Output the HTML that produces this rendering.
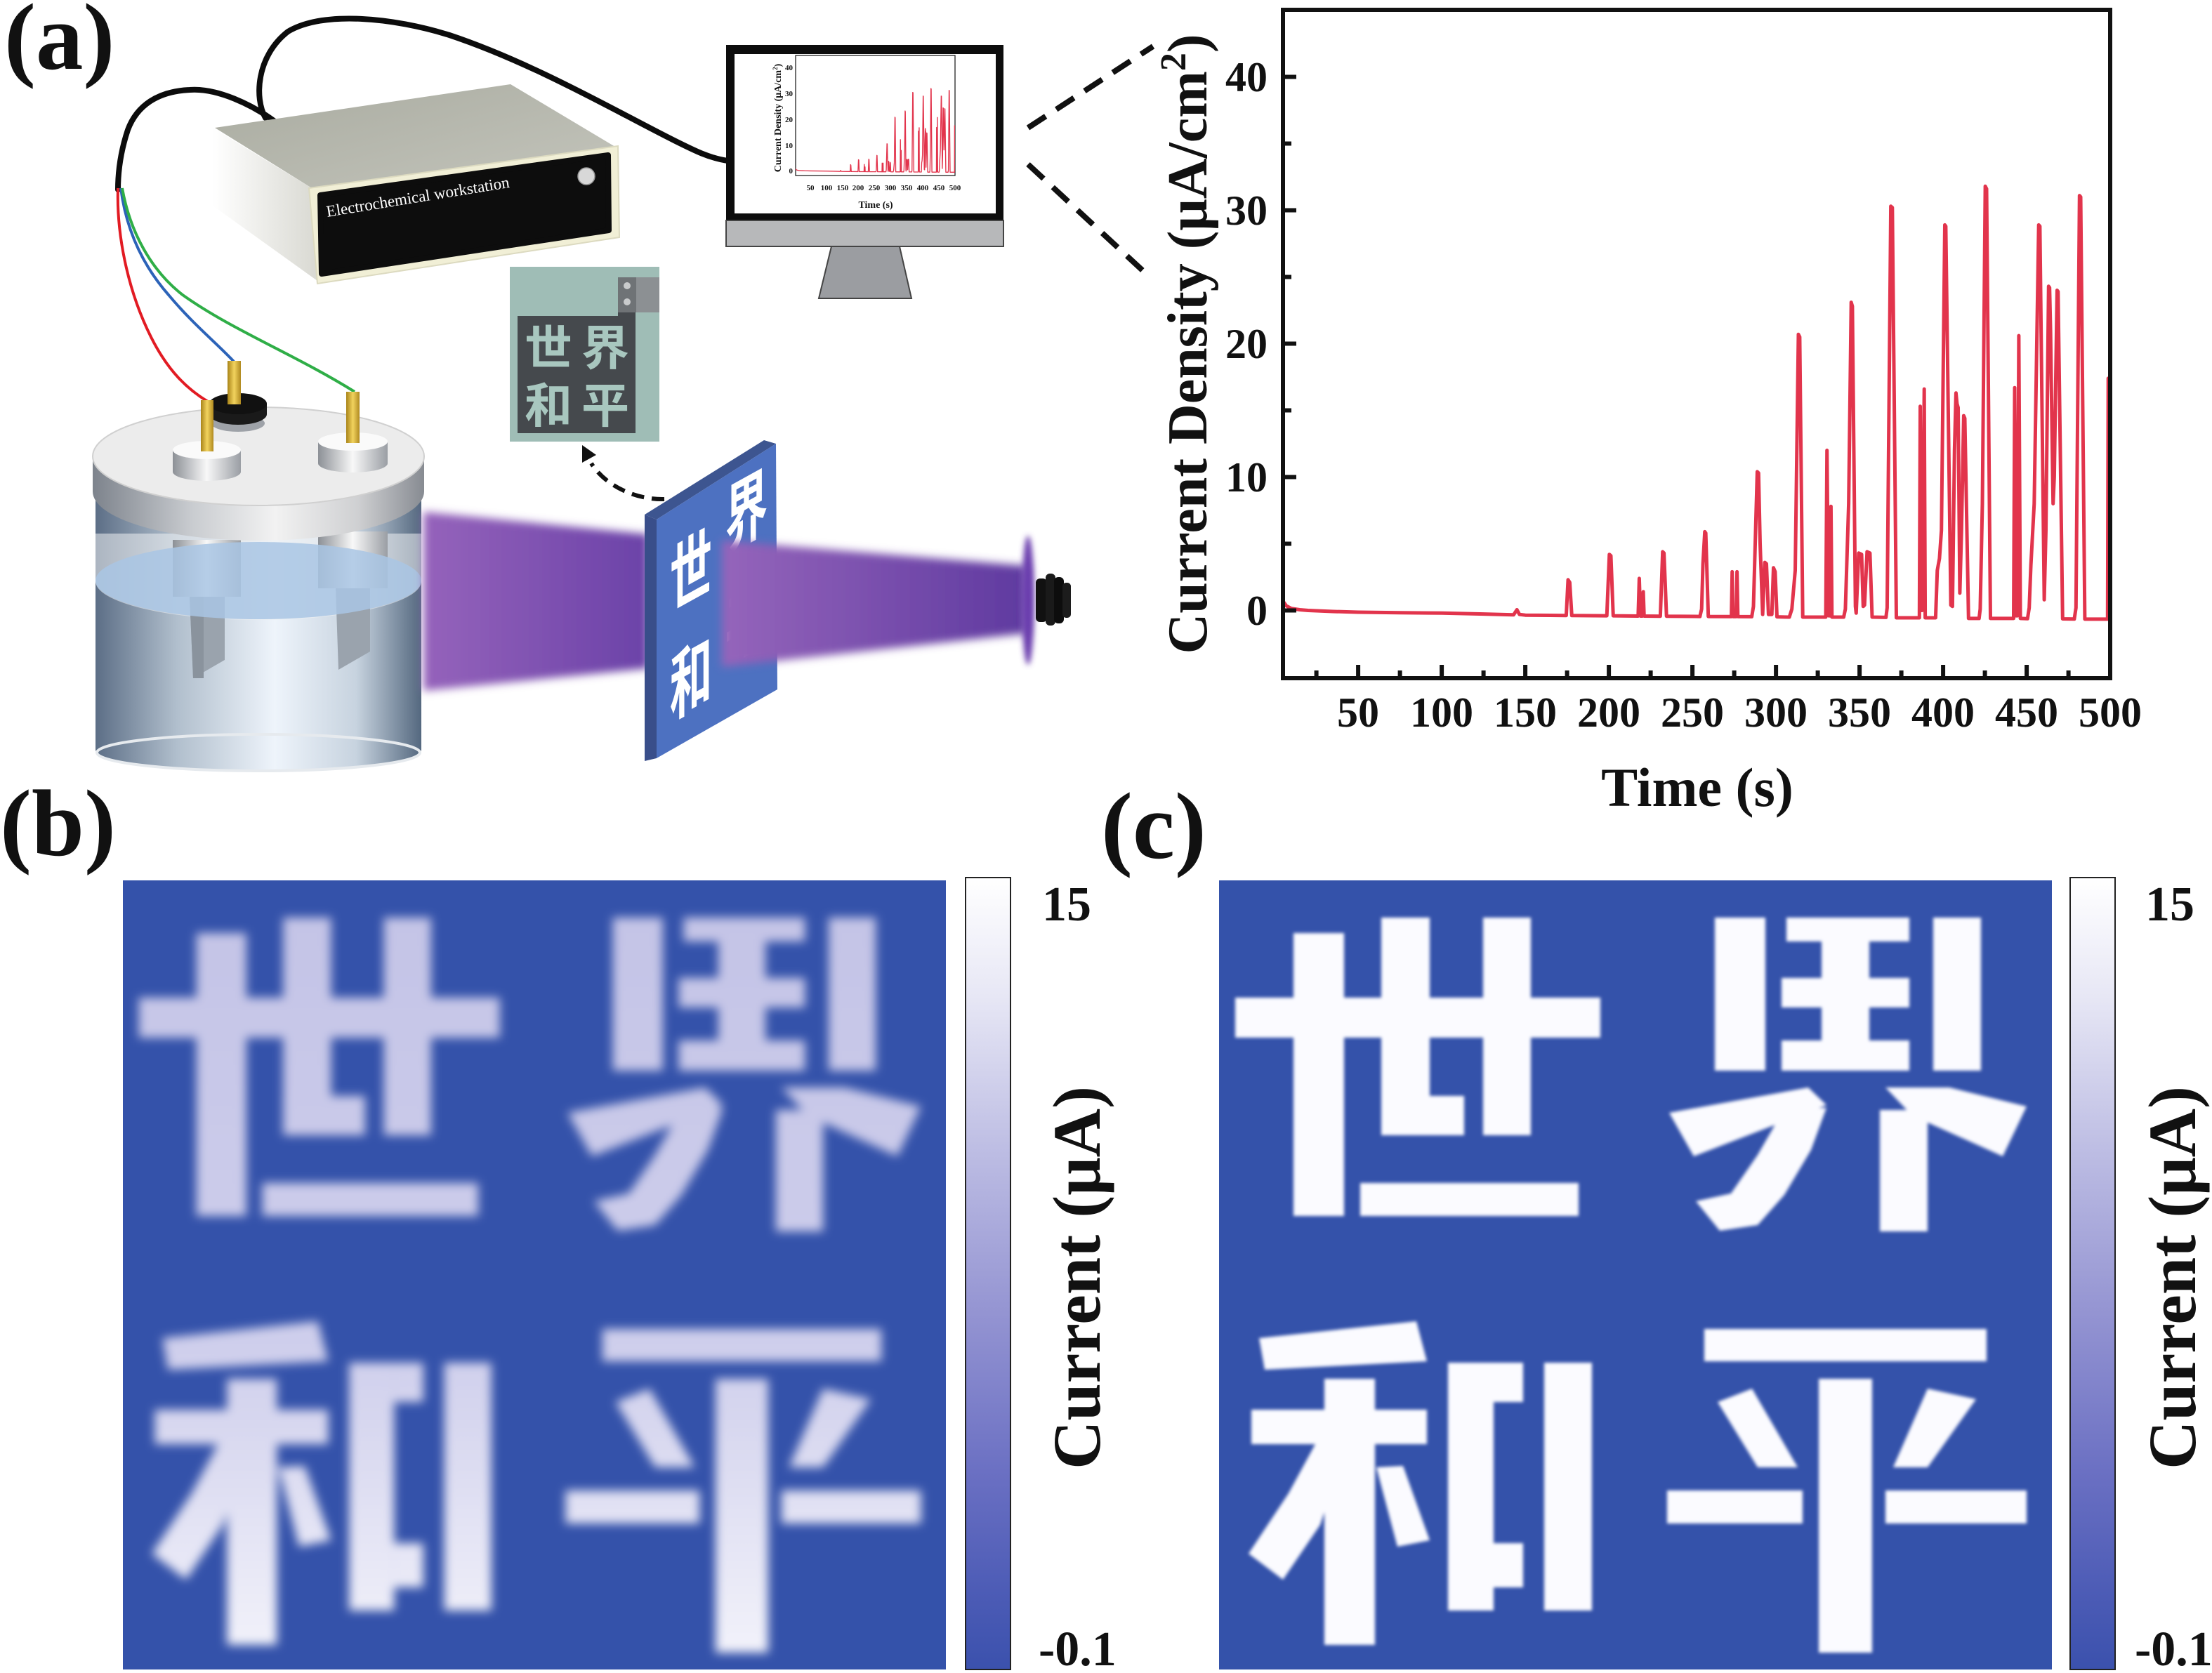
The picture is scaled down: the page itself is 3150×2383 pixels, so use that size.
<!DOCTYPE html>
<html><head><meta charset="utf-8"><style>
html,body{margin:0;padding:0;background:#fff;}
svg{display:block;}
.t{font-family:"Liberation Serif","Noto Serif CJK SC",serif;font-weight:bold;fill:#111;}
.cjk{font-family:"Liberation Sans","Noto Sans CJK SC",sans-serif;font-weight:700;}
</style></head><body>
<svg width="3150" height="2383" viewBox="0 0 3150 2383" xmlns="http://www.w3.org/2000/svg">
<defs>
  <linearGradient id="cbar" x1="0" y1="0" x2="0" y2="1">
    <stop offset="0" stop-color="#ffffff"/><stop offset="0.15" stop-color="#e7e7f5"/>
    <stop offset="0.35" stop-color="#bcbce3"/><stop offset="0.55" stop-color="#9494d2"/>
    <stop offset="0.75" stop-color="#6b70c3"/><stop offset="0.9" stop-color="#4d5cb6"/>
    <stop offset="1" stop-color="#3b51ad"/>
  </linearGradient>
  <linearGradient id="bfill" gradientUnits="userSpaceOnUse" x1="0" y1="0" x2="0" y2="1124">
    <stop offset="0" stop-color="#c3c3e6"/><stop offset="0.6" stop-color="#cfcfec"/><stop offset="1" stop-color="#f4f4fb"/>
  </linearGradient>
  <filter id="blurB" x="-5%" y="-5%" width="110%" height="110%"><feGaussianBlur stdDeviation="7"/></filter>
  <filter id="blurC" x="-5%" y="-5%" width="110%" height="110%"><feGaussianBlur stdDeviation="2.5"/></filter>
  <filter id="blur6" x="-10%" y="-20%" width="120%" height="140%"><feGaussianBlur stdDeviation="6"/></filter>
  <filter id="blur4" x="-100%" y="-20%" width="300%" height="140%"><feGaussianBlur stdDeviation="4"/></filter>
  <linearGradient id="beamL" x1="0" y1="0" x2="1" y2="0">
    <stop offset="0" stop-color="#9563bb"/><stop offset="1" stop-color="#6b42a8"/>
  </linearGradient>
  <linearGradient id="beamR" x1="0" y1="0" x2="1" y2="0">
    <stop offset="0" stop-color="#9565bb"/><stop offset="1" stop-color="#5f3aa0"/>
  </linearGradient>
  <linearGradient id="body" x1="0" y1="0" x2="1" y2="0">
    <stop offset="0" stop-color="#5c6e86"/><stop offset="0.25" stop-color="#b1bfcd"/>
    <stop offset="0.55" stop-color="#eef4fb"/><stop offset="0.8" stop-color="#c7d3df"/>
    <stop offset="1" stop-color="#54687f"/>
  </linearGradient>
  <linearGradient id="lidside" x1="0" y1="0" x2="1" y2="0">
    <stop offset="0" stop-color="#7d838c"/><stop offset="0.3" stop-color="#c9ccd0"/>
    <stop offset="0.55" stop-color="#f2f2f2"/><stop offset="0.8" stop-color="#cfd0d2"/>
    <stop offset="1" stop-color="#878b92"/>
  </linearGradient>
  <linearGradient id="cyl" x1="0" y1="0" x2="1" y2="0">
    <stop offset="0" stop-color="#8c9096"/><stop offset="0.5" stop-color="#f8f8f8"/><stop offset="1" stop-color="#9a9ea4"/>
  </linearGradient>
  <linearGradient id="gold" x1="0" y1="0" x2="1" y2="0">
    <stop offset="0" stop-color="#a98419"/><stop offset="0.5" stop-color="#f2d35e"/><stop offset="1" stop-color="#b08a20"/>
  </linearGradient>
  <linearGradient id="boxtop" x1="0" y1="0" x2="1" y2="1">
    <stop offset="0" stop-color="#a9aba0"/><stop offset="1" stop-color="#c4c5bc"/>
  </linearGradient>
  <linearGradient id="boxside" x1="0" y1="0" x2="1" y2="0">
    <stop offset="0" stop-color="#ffffff"/><stop offset="1" stop-color="#d9d9d2"/>
  </linearGradient>
  <clipPath id="plotclip"><rect x="1827" y="14" width="1178" height="952"/></clipPath>
  <clipPath id="miniclip"><rect x="1133" y="79" width="227" height="171"/></clipPath>
  <g id="ch">
    <rect x="106" y="75" width="72" height="403"/>
    <rect x="23" y="167" width="520" height="57"/>
    <rect x="231" y="53" width="69" height="310"/>
    <rect x="231" y="307" width="118" height="56"/>
    <rect x="376" y="53" width="68" height="310"/>
    <rect x="201" y="431" width="311" height="47"/>
    <rect x="706" y="53" width="72" height="218"/>
    <rect x="1017" y="53" width="68" height="218"/>
    <rect x="808" y="53" width="175" height="34"/>
    <rect x="858" y="53" width="68" height="218"/>
    <rect x="801" y="139" width="182" height="42"/>
    <rect x="801" y="228" width="182" height="43"/>
    <polygon points="641,331 839,295 865,320 676,393"/>
    <polygon points="805,325 865,324 843,384 805,448 767,491 713,499 679,457 729,446 767,391"/>
    <polygon points="949,295 1040,295 1150,322 1116,393 987,335"/>
    <rect x="941" y="327" width="68" height="173"/>
    <polygon points="57,652 281,628 296,685 65,697"/>
    <rect x="46" y="754" width="250" height="49"/>
    <rect x="150" y="710" width="72" height="379"/>
    <polygon points="137,803 182,803 144,918 91,996 42,959 99,873"/>
    <polygon points="224,836 262,834 300,940 254,949"/>
    <rect x="326" y="687" width="65" height="353"/>
    <rect x="391" y="687" width="42" height="56"/>
    <rect x="391" y="944" width="42" height="63"/>
    <rect x="463" y="687" width="68" height="353"/>
    <rect x="691" y="639" width="402" height="46"/>
    <polygon points="710,743 759,724 824,836 767,836"/>
    <polygon points="1009,724 1078,739 1009,836 960,836"/>
    <rect x="638" y="869" width="193" height="47"/>
    <rect x="949" y="869" width="201" height="47"/>
    <rect x="854" y="710" width="76" height="390"/>
  </g>
  <polyline id="curve" fill="none" stroke-linejoin="round" stroke-linecap="round" points="1827.0,856.2 1831.8,862.9 1838.9,866.7 1850.8,868.5 1862.7,869.5 1898.4,871.0 1934.1,872.0 1993.6,872.7 2053.1,873.3 2112.6,874.6 2155.4,875.8 2160.2,868.5 2163.8,875.2 2172.1,876.2 2207.8,876.5 2230.4,876.7 2233.0,825.8 2235.4,829.6 2238.3,876.7 2288.2,877.1 2291.8,789.7 2294.0,791.6 2297.3,877.1 2332.8,877.5 2334.4,823.9 2336.1,877.5 2338.9,877.5 2340.1,842.9 2341.3,877.5 2364.4,877.7 2367.7,785.9 2369.6,787.8 2373.2,877.7 2420.8,878.1 2423.2,867.6 2425.1,803.0 2427.7,757.4 2429.1,759.3 2432.7,878.1 2465.6,878.2 2466.7,814.4 2467.9,878.2 2472.5,878.2 2473.6,814.4 2474.8,878.2 2494.6,878.4 2497.0,863.8 2502.4,671.9 2504.3,673.8 2506.5,774.5 2510.1,875.2 2513.2,801.1 2515.5,803.0 2518.4,875.2 2523.2,875.2 2525.5,808.7 2527.9,814.4 2530.5,878.6 2548.1,879.0 2551.7,867.6 2556.5,812.5 2561.0,476.2 2562.9,480.0 2567.2,879.0 2600.0,879.0 2601.7,641.5 2604.1,877.1 2606.0,877.1 2607.4,721.3 2608.8,879.0 2625.5,879.0 2627.9,867.6 2632.6,717.5 2636.2,430.6 2637.9,436.3 2642.2,863.8 2643.3,873.3 2646.9,787.8 2651.0,789.7 2653.3,863.8 2655.2,861.9 2658.8,785.9 2662.9,787.8 2666.0,879.0 2685.7,879.4 2687.4,865.7 2692.6,293.8 2694.8,295.7 2700.5,880.0 2733.3,880.0 2734.5,578.8 2735.7,869.5 2737.4,869.5 2740.2,554.1 2741.6,880.0 2756.4,880.0 2758.8,812.5 2761.9,795.4 2764.7,755.5 2769.5,320.4 2770.9,322.3 2778.1,861.9 2780.4,863.8 2783.3,641.5 2785.4,559.8 2786.9,575.0 2788.5,580.7 2790.9,844.8 2793.3,755.5 2796.4,592.1 2798.0,595.9 2803.3,880.9 2818.3,880.9 2819.9,867.6 2823.0,717.5 2827.1,265.3 2829.0,269.1 2834.5,880.9 2867.5,880.9 2869.0,552.2 2870.9,877.1 2873.0,877.1 2874.9,478.1 2877.1,880.9 2887.3,881.3 2889.7,865.7 2892.1,804.9 2896.8,717.5 2903.2,320.4 2904.9,322.3 2911.1,854.3 2913.5,755.5 2917.3,407.8 2918.7,409.7 2920.1,472.4 2923.7,717.5 2925.4,679.5 2929.4,413.5 2930.8,415.4 2937.3,881.5 2953.9,881.7 2956.3,865.7 2961.3,278.6 2963.0,280.5 2968.9,881.9 3001.3,881.9 3002.2,538.9 3004.0,538.9"/>
</defs>

<rect width="3150" height="2383" fill="#fff"/>

<!-- ===== Panel labels ===== -->
<text class="t" x="6" y="98" font-size="135">(a)</text>
<text class="t" x="0" y="1218" font-size="135">(b)</text>
<text class="t" x="1568" y="1222" font-size="135">(c)</text>

<!-- ===== Cables ===== -->
<path d="M378,168 C362,140 365,80 410,45 C460,15 560,25 640,50 C760,90 880,160 960,200 C990,215 1010,225 1036,229" fill="none" stroke="#0c0c0c" stroke-width="8" stroke-linecap="round"/>
<path d="M390,172 C360,150 310,125 270,128 C225,130 195,150 182,185 C172,215 168,245 168,270" fill="none" stroke="#0c0c0c" stroke-width="8" stroke-linecap="round"/>
<path d="M168,268 C166,330 180,410 215,480 C240,530 268,555 296,572" fill="none" stroke="#e21b23" stroke-width="4"/>
<path d="M172,268 C180,330 205,380 240,420 C275,462 310,490 333,515" fill="none" stroke="#2c63b8" stroke-width="4"/>
<path d="M174,268 C185,330 215,385 260,420 C330,470 420,505 505,558" fill="none" stroke="#2fae47" stroke-width="4"/>

<!-- ===== Workstation ===== -->
<polygon points="303,182 449,271 452,400 303,293" fill="url(#boxside)"/>
<polygon points="306,182 727,120 876,209 449,271" fill="url(#boxtop)"/>
<polygon points="440,268 880,208 882,338 452,404" fill="#f1efd6" stroke="#dcdac0" stroke-width="2"/>
<polygon points="456,278 866,221 867,328 458,390" fill="#0d0d0d" stroke="#0d0d0d" stroke-width="8" stroke-linejoin="round"/>
<circle cx="835" cy="251" r="12" fill="#d8d8d8" stroke="#999" stroke-width="1.5"/>
<text x="466" y="309" transform="rotate(-9.2 466 309)" font-family="'Liberation Serif',serif" font-size="23" fill="#fff">Electrochemical workstation</text>

<!-- ===== Monitor ===== -->
<rect x="1034" y="64" width="395" height="250" fill="#0d0d0d"/>
<rect x="1046" y="77" width="372" height="227" fill="#fff"/>
<rect x="1034" y="314" width="395" height="37" fill="#b7b8ba" stroke="#444" stroke-width="2"/>
<polygon points="1184,351 1281,351 1298,425 1166,425" fill="#9b9da1" stroke="#444" stroke-width="2"/>
<rect x="1133" y="79" width="227" height="171" fill="none" stroke="#222" stroke-width="1.3"/>
<g clip-path="url(#miniclip)">
  <use href="#curve" transform="matrix(0.1927,0,0,0.1934,780.9,74.8)" stroke="#e2344c" stroke-width="7"/>
</g>
<g class="t" font-size="11" text-anchor="middle" font-weight="normal">
  <text x="1154" y="271">50</text><text x="1177" y="271">100</text><text x="1200" y="271">150</text>
  <text x="1222" y="271">200</text><text x="1245" y="271">250</text><text x="1268" y="271">300</text>
  <text x="1291" y="271">350</text><text x="1314" y="271">400</text><text x="1337" y="271">450</text>
  <text x="1360" y="271">500</text>
</g>
<g class="t" font-size="11" text-anchor="end" font-weight="normal">
  <text x="1129" y="247">0</text><text x="1129" y="211">10</text><text x="1129" y="174">20</text>
  <text x="1129" y="137">30</text><text x="1129" y="100">40</text>
</g>
<text class="t" x="1247" y="296" font-size="14" text-anchor="middle">Time (s)</text>
<text class="t" transform="translate(1112,168) rotate(-90)" font-size="14" text-anchor="middle">Current Density (μA/cm<tspan font-size="9" dy="-5">2</tspan><tspan dy="5">)</tspan></text>

<!-- dashed lines monitor->chart -->
<line x1="1464" y1="182" x2="1642" y2="66" stroke="#111" stroke-width="8" stroke-dasharray="30 18"/>
<line x1="1464" y1="234" x2="1628" y2="386" stroke="#111" stroke-width="8" stroke-dasharray="30 18"/>

<!-- ===== Photo ===== -->
<rect x="726" y="380" width="213" height="249" fill="#9fbdb6"/>
<polygon points="737,450 880,450 880,443 905,443 905,617 737,617" fill="#45494d"/>
<rect x="880" y="395" width="59" height="50" fill="#8c9093"/>
<rect x="880" y="395" width="26" height="50" fill="#6f7376"/>
<circle cx="893" cy="407" r="5" fill="#c9cbcc"/><circle cx="893" cy="430" r="5" fill="#c9cbcc"/>
<g class="cjk" font-size="68" fill="#a8c7bf" text-anchor="middle">
  <text x="781" y="520">世</text><text x="862" y="520">界</text>
  <text x="781" y="602">和</text><text x="862" y="602">平</text>
</g>

<!-- dashed arrow -->
<path d="M946,711 C905,712 862,692 842,660" fill="none" stroke="#111" stroke-width="6" stroke-dasharray="18 11"/>
<polygon points="829,634 849,648 829,659" fill="#111"/>

<!-- ===== Cell ===== -->
<path d="M136,700 L136,1068 A232,30 0 0 0 600,1068 L600,700 Z" fill="url(#body)"/>
<path d="M136,760 L600,760 L600,828 A232,55 0 0 1 136,828 Z" fill="#eef0f2" opacity="0.55"/>
<rect x="246" y="769" width="97" height="81" fill="url(#cyl)"/>
<rect x="453" y="757" width="99" height="81" fill="url(#cyl)"/>
<polygon points="270,850 320,850 320,940 275,966" fill="#9aa3ad"/>
<polygon points="270,850 290,850 290,966 275,966" fill="#8a939d"/>
<polygon points="478,838 527,838 527,928 482,954" fill="#9aa3ad"/>
<ellipse cx="368" cy="827" rx="232" ry="55" fill="#a9c6e4" opacity="0.85"/>
<ellipse cx="368" cy="1072" rx="230" ry="26" fill="none" stroke="#e6eaee" stroke-width="4"/>
<!-- lid -->
<path d="M132,650 L132,700 A236,70 0 0 0 604,700 L604,650 Z" fill="url(#lidside)"/>
<ellipse cx="368" cy="650" rx="236" ry="70" fill="#ececec" stroke="#d0d0d0" stroke-width="2"/>
<!-- holders -->
<path d="M246,641 L246,672 A48.5,13 0 0 0 343,672 L343,641 Z" fill="url(#cyl)"/>
<ellipse cx="294.5" cy="641" rx="48.5" ry="13" fill="#fafafa"/>
<path d="M453,629 L453,660 A49.5,13 0 0 0 552,660 L552,629 Z" fill="url(#cyl)"/>
<ellipse cx="502.5" cy="629" rx="49.5" ry="13" fill="#fafafa"/>
<ellipse cx="339" cy="603" rx="38" ry="12" fill="#9ea2a8"/>
<path d="M298,575 L298,590 A41,15 0 0 0 380,590 L380,575 Z" fill="#1a1a1a"/>
<ellipse cx="339" cy="575" rx="41" ry="15" fill="#111"/>
<rect x="286" y="570" width="18" height="73" fill="url(#gold)"/>
<rect x="324" y="514" width="19" height="62" fill="url(#gold)"/>
<rect x="493" y="558" width="19" height="73" fill="url(#gold)"/>

<!-- ===== Beam left ===== -->
<polygon points="603,729 923,761 923,952 603,984" fill="url(#beamL)" filter="url(#blur6)"/>

<!-- ===== Mask ===== -->
<polygon points="918,733 1088,627 1105,632 935,740" fill="#3d5590"/>
<polygon points="918,733 935,740 935,1080 918,1084" fill="#394e8a"/>
<polygon points="935,740 1105,632 1107,982 935,1080" fill="#4d71c1"/>
<g class="cjk" font-size="108" fill="#fff" text-anchor="middle">
  <text transform="translate(984,812) matrix(0.56,-0.31,0,1,0,0)" y="40">世</text>
  <text transform="translate(984,966) matrix(0.56,-0.31,0,1,0,0)" y="40">和</text>
  <text transform="translate(1063,727) matrix(0.56,-0.31,0,1,0,0)" y="40">界</text>
  <text transform="translate(1063,885) matrix(0.56,-0.31,0,1,0,0)" y="40">平</text>
</g>

<!-- ===== Beam right ===== -->
<polygon points="1028,770 1462,806 1462,902 1028,950" fill="url(#beamR)" filter="url(#blur6)"/>
<ellipse cx="1464" cy="855" rx="9" ry="92" fill="#6a3cae" filter="url(#blur4)"/>
<rect x="1475" y="824" width="16" height="62" rx="6" fill="#111"/>
<rect x="1489" y="817" width="14" height="74" rx="6" fill="#1a1a1a"/>
<rect x="1501" y="822" width="14" height="66" rx="6" fill="#0d0d0d"/>
<rect x="1513" y="830" width="12" height="50" rx="5" fill="#1c1c1c"/>

<!-- ===== Chart ===== -->
<g clip-path="url(#plotclip)">
  <use href="#curve" stroke="#e2344c" stroke-width="5"/>
</g>
<rect x="1827" y="14" width="1178" height="952" fill="none" stroke="#111" stroke-width="6"/>
<g stroke="#111" stroke-width="6">
  <line x1="1830" y1="869.5" x2="1846" y2="869.5"/><line x1="1830" y1="679.5" x2="1846" y2="679.5"/>
  <line x1="1830" y1="489.5" x2="1846" y2="489.5"/><line x1="1830" y1="299.5" x2="1846" y2="299.5"/>
  <line x1="1830" y1="109.5" x2="1846" y2="109.5"/>
  <line x1="1830" y1="774.5" x2="1839" y2="774.5"/><line x1="1830" y1="584.5" x2="1839" y2="584.5"/>
  <line x1="1830" y1="394.5" x2="1839" y2="394.5"/><line x1="1830" y1="204.5" x2="1839" y2="204.5"/>
  <line x1="1934.1" y1="963" x2="1934.1" y2="947"/><line x1="2053.1" y1="963" x2="2053.1" y2="947"/>
  <line x1="2172.1" y1="963" x2="2172.1" y2="947"/><line x1="2291.1" y1="963" x2="2291.1" y2="947"/>
  <line x1="2410.1" y1="963" x2="2410.1" y2="947"/><line x1="2529.1" y1="963" x2="2529.1" y2="947"/>
  <line x1="2648.1" y1="963" x2="2648.1" y2="947"/><line x1="2767.1" y1="963" x2="2767.1" y2="947"/>
  <line x1="2886.1" y1="963" x2="2886.1" y2="947"/>
  <line x1="1874.6" y1="963" x2="1874.6" y2="955"/><line x1="1993.6" y1="963" x2="1993.6" y2="955"/>
  <line x1="2112.6" y1="963" x2="2112.6" y2="955"/><line x1="2231.6" y1="963" x2="2231.6" y2="955"/>
  <line x1="2350.6" y1="963" x2="2350.6" y2="955"/><line x1="2469.6" y1="963" x2="2469.6" y2="955"/>
  <line x1="2588.6" y1="963" x2="2588.6" y2="955"/><line x1="2707.6" y1="963" x2="2707.6" y2="955"/>
  <line x1="2826.6" y1="963" x2="2826.6" y2="955"/><line x1="2945.6" y1="963" x2="2945.6" y2="955"/>
</g>
<g class="t" font-size="60" text-anchor="end">
  <text x="1805" y="890">0</text><text x="1805" y="700">10</text><text x="1805" y="510">20</text>
  <text x="1805" y="320">30</text><text x="1805" y="130">40</text>
</g>
<g class="t" font-size="60" text-anchor="middle">
  <text x="1934" y="1035">50</text><text x="2053" y="1035">100</text><text x="2172" y="1035">150</text>
  <text x="2291" y="1035">200</text><text x="2410" y="1035">250</text><text x="2529" y="1035">300</text>
  <text x="2648" y="1035">350</text><text x="2767" y="1035">400</text><text x="2886" y="1035">450</text>
  <text x="3005" y="1035">500</text>
</g>
<text class="t" x="2417" y="1148" font-size="78" text-anchor="middle">Time (s)</text>
<text class="t" transform="translate(1718,490) rotate(-90)" font-size="80" text-anchor="middle">Current Density (μA/cm<tspan font-size="52" dy="-30">2</tspan><tspan dy="30">)</tspan></text>

<!-- ===== Panel b ===== -->
<svg x="175" y="1254" width="1172" height="1124" viewBox="0 0 1186 1124" preserveAspectRatio="none">
  <rect width="1186" height="1124" fill="#3452aa"/>
  <use href="#ch" fill="url(#bfill)" filter="url(#blurB)"/>
</svg>
<rect x="1375" y="1250" width="64" height="1128" fill="url(#cbar)" stroke="#222" stroke-width="2"/>
<text class="t" x="1484" y="1311" font-size="70">15</text>
<text class="t" x="1479" y="2372" font-size="70">-0.1</text>
<text class="t" transform="translate(1566,1820) rotate(-90)" font-size="96" text-anchor="middle">Current (μA)</text>

<!-- ===== Panel c ===== -->
<svg x="1736" y="1254" width="1186" height="1124" viewBox="0 0 1186 1124" preserveAspectRatio="none">
  <rect width="1186" height="1124" fill="#3452aa"/>
  <use href="#ch" fill="#fbfbff" filter="url(#blurC)"/>
</svg>
<rect x="2948" y="1250" width="64" height="1128" fill="url(#cbar)" stroke="#222" stroke-width="2"/>
<text class="t" x="3055" y="1311" font-size="70">15</text>
<text class="t" x="3040" y="2372" font-size="70">-0.1</text>
<text class="t" transform="translate(3126,1820) rotate(-90)" font-size="96" text-anchor="middle">Current (μA)</text>
</svg>
</body></html>
